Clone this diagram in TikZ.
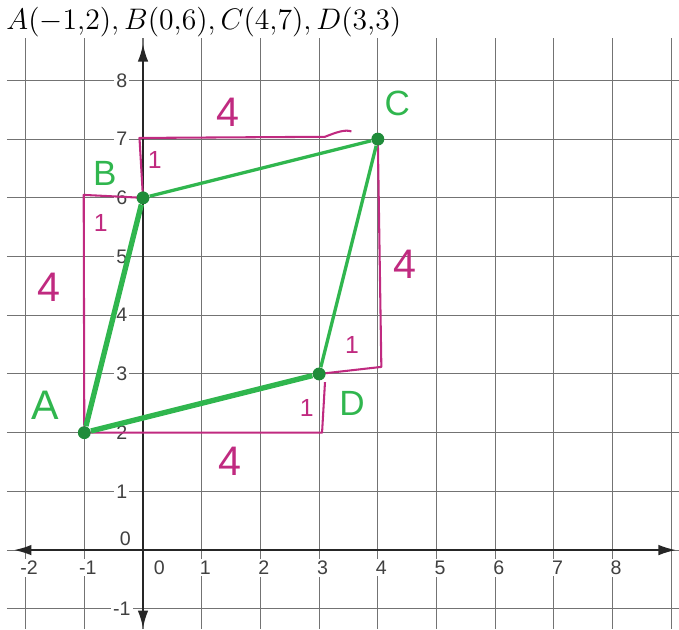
\documentclass[tikz,border=0pt]{standalone}
\usepackage{amsmath}
\usepackage{fontspec}
\setsansfont{Liberation Sans}
\usetikzlibrary{arrows.meta, positioning, calc}

\definecolor{penpink}{RGB}{192,42,128}
\definecolor{pengreen}{RGB}{48,182,78}
\definecolor{dotgreen}{RGB}{32,140,58}

\begin{document}
\begin{tikzpicture}[
    font=\sffamily,
    gridline/.style={draw=black!55, line width=0.5pt},
    axis/.style={draw=black!85, line width=0.8pt, {Latex[length=3mm,width=1.8mm]}-{Latex[length=3mm,width=1.8mm]}},
    ticklabel/.style={fill=white, inner sep=1pt, text=black!75, font=\sffamily\fontsize{9.5}{9.5}\selectfont},
    leg/.style={draw=penpink, line width=1pt, line join=round},
    side/.style={draw=pengreen, line width=1.6pt},
    thickside/.style={draw=pengreen, line width=2.6pt},
    dot/.style={circle, fill=dotgreen, inner sep=0pt, minimum size=2.2mm},
    vertexlabel/.style={text=pengreen, font=\sffamily\fontsize{17}{17}\selectfont},
    countlabel/.style={text=penpink, font=\sffamily\fontsize{20}{20}\selectfont},
    smallcount/.style={text=penpink, font=\sffamily\fontsize{12}{12}\selectfont}
]
\useasboundingbox (-2.436,-1.346) rectangle (9.13,9.37);

% Grid paper
\foreach \x in {-2,...,9}
    \draw [gridline] (\x,8.72) -- (\x,-1.346);
\foreach \y in {-1,...,8}
    \draw [gridline] (-2.32,\y) -- (9.13,\y);

% Axes
\coordinate (xleft) at (-2.2,0);
\coordinate (xright) at (9.08,0);
\coordinate (ytop) at (0,8.62);
\coordinate (ybottom) at (0,-1.33);
\draw [axis] (xleft) -- (xright);
\draw [axis] (ybottom) -- (ytop);

% Tick labels
\foreach \x in {-2,-1,1,2,...,8}
    \node (xt\x) [ticklabel] at (\x+0.06,-0.3) {\x};
\node (xt0) [ticklabel] at (0.28,-0.3) {0};
\foreach \y in {-1,1,2,...,8}
    \node (yt\y) [ticklabel] at (-0.36,\y) {\y};
\node (yt0) [ticklabel] at (-0.3,0.2) {0};

% Given points
\node (coords) [anchor=west, font=\fontsize{14}{14}\selectfont] at (-2.45,9.0) {$A(-1{,}2), B(0{,}6), C(4{,}7), D(3{,}3)$};

% Rise and run
\coordinate (A0) at (-1,2);
\coordinate (B0) at (0,6);
\coordinate (C0) at (4,7);
\coordinate (D0) at (3,3);
\coordinate (ab) at (-1.01,6.05);
\coordinate (bc) at (-0.06,7.02);
\coordinate (bcend) at (3.55,7.13);
\coordinate (cd) at (4.06,3.12);
\coordinate (da) at (3.05,2);
\coordinate (daup) at (3.1,2.86);
\draw [leg] (A0) -- (ab) -- (B0);
\draw [leg] (B0) -- (bc) -- (3.1,7.04) .. controls (3.3,7.12) and (3.45,7.17) .. (bcend);
\draw [leg] (C0) -- (cd) -- (D0);
\draw [leg] (A0) -- (da) -- (daup);

\node (run1) [countlabel] at (1.45,7.45) {4};
\node (rise1) [smallcount] at (0.2,6.64) {1};
\node (rise2) [countlabel] at (-1.6,4.48) {4};
\node (run2) [smallcount] at (-0.72,5.57) {1};
\node (run3) [countlabel] at (1.48,1.52) {4};
\node (rise3) [smallcount] at (2.79,2.42) {1};
\node (rise4) [countlabel] at (4.46,4.86) {4};
\node (run4) [smallcount] at (3.56,3.49) {1};

% Parallelogram
\node (A) [dot] at (A0) {};
\node (B) [dot] at (B0) {};
\node (C) [dot] at (C0) {};
\node (D) [dot] at (D0) {};
\draw [thickside] (A) -- (B);
\draw [side] (B) -- (C);
\draw [side] (C) -- (D);
\draw [thickside] (D) -- (A);

\node (labA) [vertexlabel, font=\sffamily\fontsize{20}{20}\selectfont] at ($(A)+(-0.67,0.47)$) {A};
\node (labB) [vertexlabel] at ($(B)+(-0.65,0.42)$) {B};
\node (labC) [vertexlabel] at ($(C)+(0.33,0.6)$) {C};
\node (labD) [vertexlabel] at ($(D)+(0.56,-0.5)$) {D};

\end{tikzpicture}
\end{document}
